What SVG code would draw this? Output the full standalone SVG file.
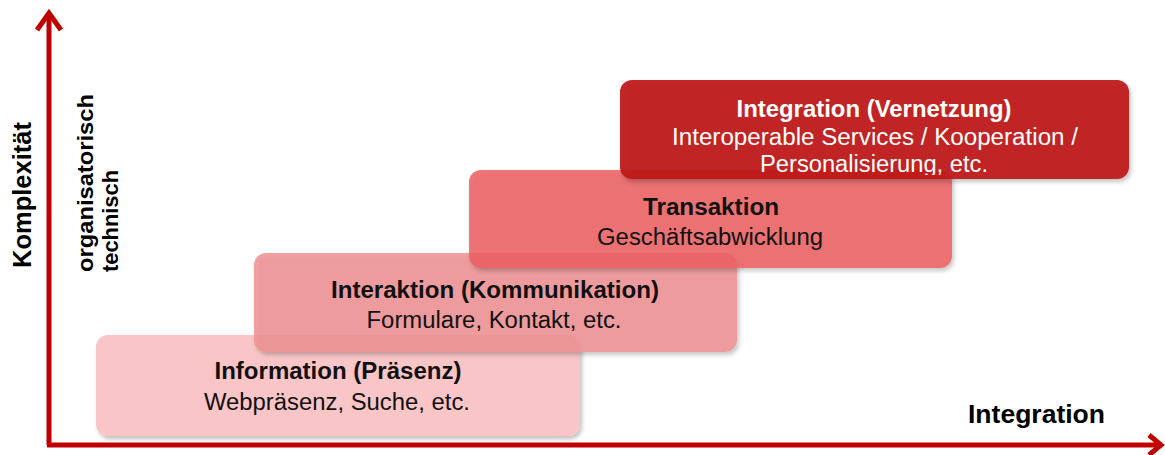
<svg xmlns="http://www.w3.org/2000/svg" width="1165" height="455" viewBox="0 0 1165 455">
<defs>
<style>
.bt{font-family:"Liberation Sans",Arial,sans-serif;font-size:23px;font-weight:bold;text-anchor:middle;fill:#111}
.rt{font-family:"Liberation Sans",Arial,sans-serif;font-size:23px;text-anchor:middle;fill:#111}
.w{fill:#fff}
.ax{font-family:"Liberation Sans",Arial,sans-serif;font-weight:bold;fill:#000}
.axis{stroke:#C00000;stroke-width:5;fill:none}
</style>
<filter id="sh" x="-5%" y="-10%" width="115%" height="130%">
<feDropShadow dx="2" dy="3" stdDeviation="2" flood-color="#000" flood-opacity="0.25"/>
</filter>
<clipPath id="c4"><rect x="620" y="80" width="509" height="95"/></clipPath>
</defs>

<g id="n1">
<rect x="96" y="335" width="484" height="101" rx="12" fill="#F9C5C6" filter="url(#sh)"/>
<text class="bt" x="338" y="379" textLength="247" lengthAdjust="spacingAndGlyphs">Information (Präsenz)</text>
<text class="rt" x="337" y="410" textLength="266" lengthAdjust="spacingAndGlyphs">Webpräsenz, Suche, etc.</text>
</g>

<g id="n2">
<rect x="254" y="253" width="483" height="99" rx="12" fill="rgb(238,145,147)" fill-opacity="0.85" filter="url(#sh)"/>
<text class="bt" x="495" y="298" textLength="328" lengthAdjust="spacingAndGlyphs">Interaktion (Kommunikation)</text>
<text class="rt" x="494" y="328" textLength="255" lengthAdjust="spacingAndGlyphs">Formulare, Kontakt, etc.</text>
</g>

<g id="n3">
<rect x="469" y="170" width="483" height="98" rx="12" fill="rgb(236,95,97)" fill-opacity="0.85" filter="url(#sh)"/>
<text class="bt" x="711" y="215" textLength="136" lengthAdjust="spacingAndGlyphs">Transaktion</text>
<text class="rt" x="710" y="245" textLength="226" lengthAdjust="spacingAndGlyphs">Geschäftsabwicklung</text>
</g>

<g id="n4">
<rect x="620" y="80" width="509" height="99" rx="12" fill="rgb(190,20,26)" fill-opacity="0.92" filter="url(#sh)"/>
<g clip-path="url(#c4)">
<text class="bt w" x="874" y="117" textLength="275" lengthAdjust="spacingAndGlyphs">Integration (Vernetzung)</text>
<text class="rt w" x="875" y="145" textLength="406" lengthAdjust="spacingAndGlyphs">Interoperable Services / Kooperation /</text>
<text class="rt w" x="874" y="172" textLength="228" lengthAdjust="spacingAndGlyphs">Personalisierung, etc.</text>
</g>
</g>

<g id="connectors">
<polyline class="axis" points="49,445 49,14"/>
<polyline class="axis" points="37,30 49,13 61,30" stroke-linejoin="miter"/>
<polyline class="axis" points="47,445 1160,445"/>
<polyline class="axis" points="1149,435 1161,445 1149,455" stroke-linejoin="miter"/>
</g>

<g id="labels">
<text class="ax" font-size="25" transform="translate(31,268) rotate(-90)" textLength="146" lengthAdjust="spacingAndGlyphs">Komplexität</text>
<text class="ax" font-size="22" transform="translate(93,272) rotate(-90)" textLength="178" lengthAdjust="spacingAndGlyphs">organisatorisch</text>
<text class="ax" font-size="22" transform="translate(118,272) rotate(-90)" textLength="102" lengthAdjust="spacingAndGlyphs">technisch</text>
<text class="ax" font-size="26" x="968" y="423" textLength="137" lengthAdjust="spacingAndGlyphs">Integration</text>
</g>
</svg>
